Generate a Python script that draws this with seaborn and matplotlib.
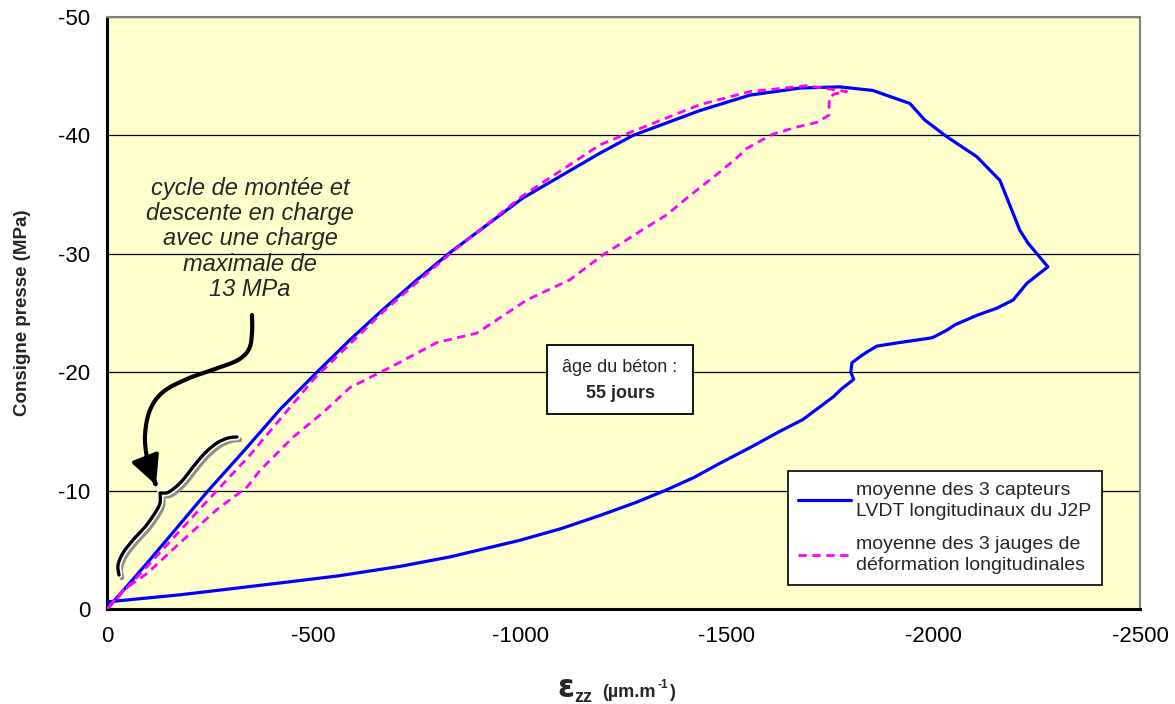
import matplotlib
matplotlib.use("Agg")
import numpy as np
import matplotlib.pyplot as plt
import matplotlib.patheffects as pe
from matplotlib.path import Path
from matplotlib.patches import FancyArrowPatch, Rectangle
import seaborn as sns

# ==========================================
# DONNEES
# ==========================================

# moyenne des 3 capteurs LVDT (montee, pic, puis retour)
lvdt_x = [0, -100, -245, -335, -420, -508, -590, -668, -750, -830, -1006,
          -1193, -1273, -1435, -1556, -1677, -1773, -1853, -1902, -1943,
          -1979, -2032, -2105, -2161, -2209, -2229, -2277, -2226, -2193,
          -2153, -2105, -2052, -2035, -2008, -1996, -1917, -1863, -1839,
          -1822, -1803, -1800, -1807, -1800, -1778, -1757, -1684, -1628,
          -1560, -1483, -1420, -1350, -1280, -1193, -1100, -999, -830,
          -709, -560, -419, -177, 0, 10]
lvdt_y = [0, -4.0, -10.0, -13.5, -16.9, -20.0, -22.8, -25.3, -27.8, -30.1,
          -34.7, -38.5, -40.0, -42.1, -43.4, -44.0, -44.1, -43.8, -43.2,
          -42.7, -41.3, -39.9, -38.2, -36.2, -32.0, -30.9, -28.9, -27.5,
          -26.1, -25.4, -24.8, -24.0, -23.6, -23.1, -22.9, -22.5, -22.2,
          -21.7, -21.3, -20.8, -20.0, -19.4, -19.2, -18.6, -17.9, -16.0,
          -15.0, -13.7, -12.3, -11.1, -10.0, -9.0, -7.9, -6.8, -5.8, -4.4,
          -3.6, -2.8, -2.2, -1.2, -0.6, -0.5]

# moyenne des 3 jauges de deformation
jauge_x = [0, -100, -250, -346, -500, -668, -830, -1006, -1193, -1248,
           -1435, -1556, -1694, -1790, -1760, -1748, -1747, -1718, -1669,
           -1611, -1548, -1524, -1490, -1403, -1355, -1290, -1200, -1120,
           -1016, -895, -798, -685, -588, -523, -450, -370, -339, -266,
           -177, -97, -39, 0]
jauge_y = [0, -3.7, -9.4, -13.0, -19.4, -25.1, -30.0, -34.9, -39.2, -40.0,
           -42.6, -43.7, -44.2, -43.7, -43.5, -43.2, -41.7, -41.1, -40.7,
           -40.1, -38.9, -38.1, -37.1, -34.7, -33.3, -31.9, -29.9, -27.8,
           -26.1, -23.3, -22.5, -20.4, -18.7, -16.6, -14.5, -11.7, -10.3,
           -8.4, -5.6, -3.0, -1.6, 0]

x_ticks = [0, -500, -1000, -1500, -2000, -2500]
y_ticks = [0, -10, -20, -30, -40, -50]

label_lvdt = "moyenne des 3 capteurs\nLVDT longitudinaux du J2P"
label_jauge = "moyenne des 3 jauges de\ndéformation longitudinales"

# ==========================================
# STYLE
# ==========================================

sns.set_style("white")
plt.rcParams["font.family"] = ["Liberation Sans", "DejaVu Sans"]

fig = plt.figure(figsize=(11.75, 7.04), dpi=100)
ax = fig.add_axes([107 / 1175, 95 / 704, 1033 / 1175, 592 / 704])
ax.set_facecolor("#FFFFCC")


def px(x, y):
    # position en pixels de l'image -> coordonnees du graphique
    return (-(x - 107) * 2500 / 1033, -(609 - y) * 50 / 592)


def lisse(pts, n=10):
    # spline de Catmull-Rom pour les traits dessines a la main
    p = np.array(pts, float)
    p = np.vstack([p[0], p, p[-1]])
    out = []
    for i in range(1, len(p) - 2):
        p0, p1, p2, p3 = p[i - 1], p[i], p[i + 1], p[i + 2]
        for t in np.linspace(0, 1, n, endpoint=False):
            out.append(0.5 * (2 * p1 + (-p0 + p2) * t
                              + (2 * p0 - 5 * p1 + 4 * p2 - p3) * t ** 2
                              + (-p0 + 3 * p1 - 3 * p2 + p3) * t ** 3))
    out.append(p[-2])
    return [px(a, b) for a, b in out]


# ==========================================
# COURBES
# ==========================================

sns.lineplot(x=lvdt_x, y=lvdt_y, sort=False, estimator=None, ax=ax,
             color="#0000FF", linewidth=2.3, label=label_lvdt, zorder=3)
sns.lineplot(x=jauge_x, y=jauge_y, sort=False, estimator=None, ax=ax,
             color="#FF00FF", linewidth=2.0, linestyle=(0, (3, 2)),
             label=label_jauge, zorder=4)

ax.set_xlim(0, -2500)
ax.set_ylim(0, -50)
ax.set_xticks(x_ticks)
ax.set_yticks(y_ticks)
ax.set_xticklabels([str(v) for v in x_ticks])
ax.set_yticklabels([str(v) for v in y_ticks])
ax.tick_params(axis="both", direction="out", length=6, width=1.5,
               labelsize=16, colors="black", pad=6)
ax.yaxis.grid(True, color="black", linewidth=0.9)
ax.xaxis.grid(False)
ax.set_axisbelow(True)

for s in ["left", "bottom"]:
    ax.spines[s].set_color("black")
    ax.spines[s].set_linewidth(2.2)
for s in ["top", "right"]:
    ax.spines[s].set_color("#808080")
    ax.spines[s].set_linewidth(1.5)

ax.set_xlabel("")
ax.set_ylabel("Consigne presse (MPa)", fontsize=13.5, fontweight="bold")
ax.yaxis.set_label_coords(-0.074, 0.5)

# titre axe x en morceaux (epsilon plus grand)
fig.text(557 / 1175, 1 - 697 / 704, "ε", fontsize=22, fontweight="bold",
         family="DejaVu Sans", ha="left", va="baseline")
fig.text(574 / 1175, 1 - 702 / 704, "zz", fontsize=13, fontweight="bold",
         ha="left", va="baseline")
fig.text(602 / 1175, 1 - 697 / 704, "(µm.m", fontsize=13, fontweight="bold",
         ha="left", va="baseline")
fig.text(657 / 1175, 1 - 688 / 704, "-1", fontsize=8.5, fontweight="bold",
         ha="left", va="baseline")
fig.text(669 / 1175, 1 - 697 / 704, ")", fontsize=13, fontweight="bold",
         ha="left", va="baseline")

# ==========================================
# LEGENDE
# ==========================================

leg = ax.legend(loc="upper left", bbox_to_anchor=(0.659, 0.233),
                fontsize=14, frameon=True, fancybox=False, framealpha=1,
                edgecolor="black", handlelength=2.7, handletextpad=0.25,
                labelspacing=0.85, borderpad=0.55, borderaxespad=0)
leg.get_frame().set_linewidth(1.2)
for t in leg.get_texts():
    t.set_linespacing(1.3)

# ==========================================
# ANNOTATIONS
# ==========================================

ax.text(*px(250, 239),
        "cycle de montée et\ndescente en charge\navec une charge\nmaximale de\n13 MPa",
        fontsize=17, fontstyle="italic", ha="center", va="center",
        multialignment="center", linespacing=1.12, zorder=5)

# accolade (deux branches, pointe au milieu)
bras_bas = [(119, 575), (118, 565), (123, 553), (133, 540), (145, 527),
            (155, 513), (160, 503), (160, 493)]
bras_haut = [(160, 493), (166, 493), (172, 490), (182, 481), (193, 467),
             (205, 453), (217, 443), (228, 438), (237, 437)]
brace = lisse(bras_bas) + lisse(bras_haut)
ax.plot([p[0] for p in brace], [p[1] for p in brace], color="black",
        linewidth=2.4, solid_joinstyle="round", solid_capstyle="round",
        zorder=5,
        path_effects=[pe.SimpleLineShadow(offset=(2, -2), shadow_color="gray",
                                          alpha=0.9, linewidth=3.5),
                      pe.Stroke(linewidth=4.8, foreground="white"),
                      pe.Normal()])

# fleche courbe
fleche = [(252, 315), (252, 333), (249, 349), (238, 360), (215, 369),
          (187, 379), (163, 392), (150, 410), (145, 435), (147, 458),
          (151, 472), (156, 485)]
arrow = FancyArrowPatch(path=Path(lisse(fleche)),
                        arrowstyle="-|>,head_length=0.7,head_width=0.35",
                        mutation_scale=25, linewidth=3, color="black",
                        joinstyle="round", capstyle="round", zorder=5)
ax.add_patch(arrow)

# boite age du beton
x0, y0 = px(547, 414)
x1, y1 = px(693, 345)
ax.add_patch(Rectangle((x0, y0), x1 - x0, y1 - y0, facecolor="white",
                       edgecolor="black", linewidth=1.3, zorder=5))
ax.text(*px(620, 367), "âge du béton :", fontsize=13, ha="center",
        va="center", zorder=6)
ax.text(*px(620, 393), "55 jours", fontsize=13, fontweight="bold",
        ha="center", va="center", zorder=6)

fig.savefig("out.png", dpi=100, facecolor="white")
